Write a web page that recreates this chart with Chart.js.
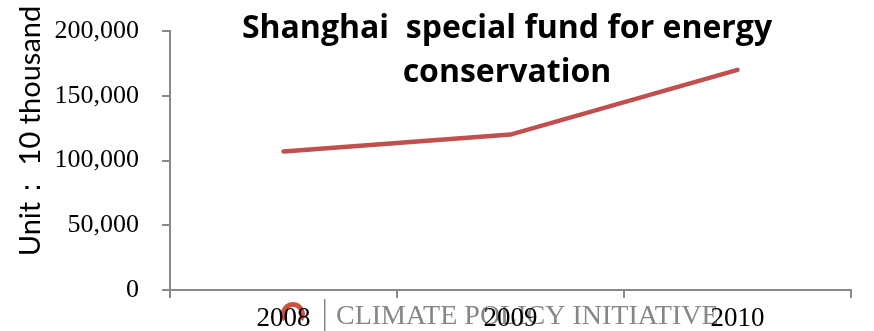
<!DOCTYPE html>
<html>
<head>
<meta charset="utf-8">
<script src="https://cdn.jsdelivr.net/npm/chart.js@4"></script>
<style>
  html, body { margin: 0; padding: 0; background: #fff; }
  #wrap { width: 874px; height: 331px; }
</style>
</head>
<body>
<div id="wrap"><canvas id="fundChart"></canvas></div>
<script>
// dados
const years = ['2008', '2009', '2010'];
const fundValues = [107000, 120000, 170000];
const yTicks = [0, 50000, 100000, 150000, 200000];
const titleLines = ['Shanghai  special fund for energy', 'conservation'];
const yTitle = 'Unit： 10 thousand';

// título e rótulo do eixo desenhados por cima, como no original
const overlayText = {
    id: 'overlayText',
    afterDraw(chart) {
        const ctx = chart.ctx;
        ctx.save();
        ctx.fillStyle = '#000';
        ctx.font = 'bold 32px "Open Sans", Lato, sans-serif';
        ctx.textAlign = 'center';
        ctx.textBaseline = 'alphabetic';
        ctx.fillText(titleLines[0], 507, 38);
        ctx.fillText(titleLines[1], 507, 82);

        ctx.translate(31, 131);
        ctx.rotate(-Math.PI / 2);
        ctx.font = '29px Lato, "Open Sans", sans-serif';
        ctx.textBaseline = 'middle';
        ctx.fillText(yTitle, 0, 0);
        ctx.restore();
    }
};

// marca d'água do rodapé
const watermark = {
    id: 'watermark',
    beforeDraw(chart) {
        const ctx = chart.ctx;
        ctx.save();
        ctx.strokeStyle = '#c8553d';
        ctx.lineWidth = 5;
        ctx.beginPath();
        ctx.arc(293, 314, 9.5, Math.PI * 0.8, Math.PI * 2.2);
        ctx.stroke();
        ctx.fillStyle = '#8a8a8a';
        ctx.fillRect(324, 299, 1.5, 32);
        ctx.fillStyle = '#868686';
        ctx.font = '28px "Liberation Serif", serif';
        ctx.textAlign = 'left';
        ctx.textBaseline = 'alphabetic';
        ctx.fillText('CLIMATE POLICY INITIATIVE', 336, 324);
        ctx.restore();
    }
};

const ctx = document.getElementById('fundChart').getContext('2d');
const fundChart = new Chart(ctx, {
    type: 'line',
    data: {
        labels: years,
        datasets: [{
            data: fundValues,
            borderColor: '#c0504d',
            borderWidth: 4.5,
            borderCapStyle: 'round',
            tension: 0,
            pointRadius: 0,
            fill: false
        }]
    },
    options: {
        responsive: true,
        maintainAspectRatio: false,
        animation: false,
        layout: { padding: { top: 31, right: 23, left: 0, bottom: 0 } },
        plugins: {
            legend: { display: false },
            tooltip: { enabled: false }
        },
        scales: {
            x: {
                offset: true,
                afterFit(scale) {
                    scale.height = 41;
                    scale.paddingLeft = 0;
                    scale.paddingRight = 0;
                },
                grid: {
                    offset: true,
                    drawOnChartArea: false,
                    drawTicks: true,
                    tickLength: 8,
                    color: '#898989',
                    lineWidth: 2
                },
                border: { color: '#898989', width: 2 },
                ticks: {
                    color: '#000',
                    padding: 5,
                    maxRotation: 0,
                    font: { family: '"Liberation Serif", serif', size: 27 }
                }
            },
            y: {
                min: 0,
                max: 200000,
                afterFit(scale) {
                    scale.width = 170;
                    scale.paddingTop = 0;
                    scale.paddingBottom = 0;
                },
                afterBuildTicks(scale) { scale.ticks = yTicks.map(v => ({ value: v })); },
                grid: {
                    drawOnChartArea: false,
                    drawTicks: true,
                    tickLength: 8,
                    color: '#898989',
                    lineWidth: 2
                },
                border: { color: '#898989', width: 2 },
                ticks: {
                    color: '#000',
                    padding: 23,
                    font: { family: '"Liberation Serif", serif', size: 26 },
                    callback: v => v.toLocaleString('en-US')
                }
            }
        }
    },
    plugins: [watermark, overlayText]
});
</script>
</body>
</html>
